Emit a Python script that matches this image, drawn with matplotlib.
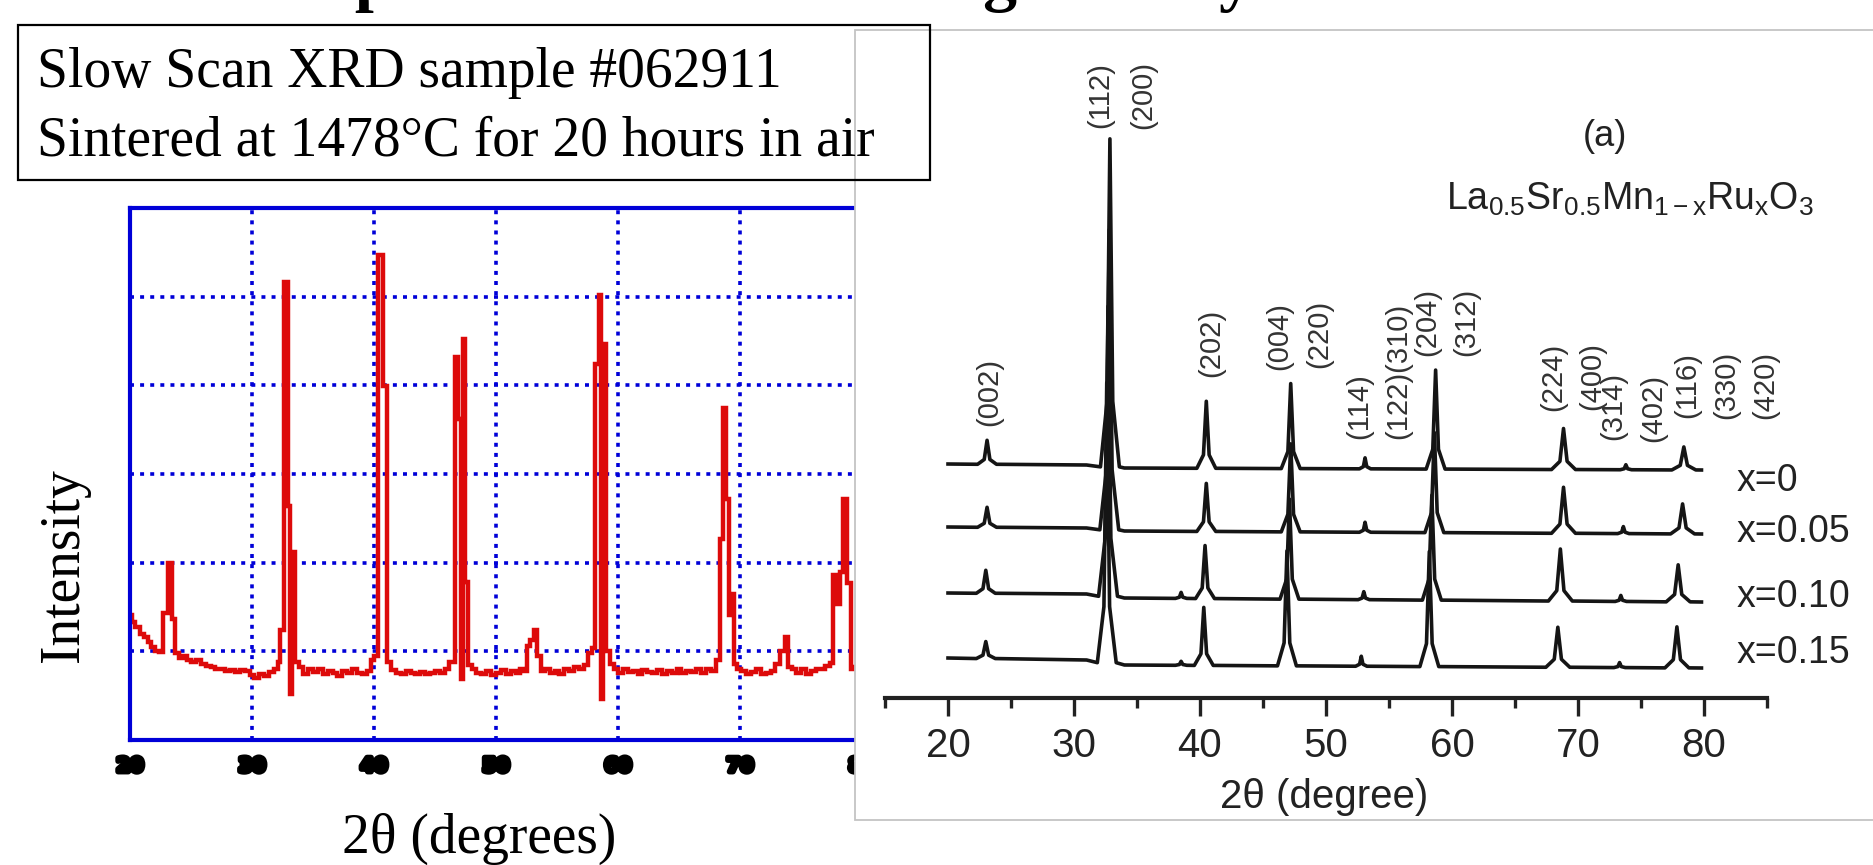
import matplotlib
matplotlib.use("Agg")
import matplotlib.pyplot as plt
from matplotlib.patches import Rectangle
import matplotlib.patheffects as pe
import numpy as np

W, H = 1873, 865

plt.rcParams['mathtext.fontset'] = 'custom'
plt.rcParams['mathtext.rm'] = 'Liberation Sans'
plt.rcParams['mathtext.it'] = 'Liberation Sans:italic'
plt.rcParams['mathtext.bf'] = 'Liberation Sans:bold'

# slow scan of the sample (2theta, intensity in grid units)
scan_theta = [20.0, 20.3, 20.6, 21.0, 21.3, 21.6, 21.9, 22.2, 22.5, 22.93, 23.25, 23.57, 23.85,
              24.2, 24.5, 24.8, 25.2, 25.6, 26.0, 26.4, 26.8, 27.2, 27.6, 28.0, 28.4, 28.8,
              29.2, 29.6, 30.0, 30.4, 30.8, 31.2, 31.6, 32.0, 32.2, 32.43, 32.84, 33.05, 33.15,
              33.36, 33.65, 34.0, 34.4, 34.8, 35.2, 35.6, 36.0, 36.4, 36.8, 37.2, 37.6, 38.0,
              38.4, 38.8, 39.2, 39.6, 39.9, 40.16, 40.57, 40.87, 41.2, 41.6, 42.0, 42.4, 42.8,
              43.2, 43.6, 44.0, 44.4, 44.8, 45.2, 45.6, 46.0, 46.3, 46.55, 46.8, 47.05, 47.2,
              47.35, 47.6, 47.85, 48.2, 48.6, 49.0, 49.4, 49.8, 50.2, 50.6, 51.0, 51.4, 51.8,
              52.2, 52.45, 52.7, 52.95, 53.2, 53.5, 53.8, 54.2, 54.6, 55.0, 55.4, 55.8, 56.2,
              56.6, 57.0, 57.4, 57.75, 58.0, 58.3, 58.55, 58.65, 58.9, 59.2, 59.5, 59.8, 60.2,
              60.6, 61.0, 61.4, 61.8, 62.2, 62.6, 63.0, 63.4, 63.8, 64.2, 64.6, 65.0, 65.4,
              65.8, 66.2, 66.6, 67.0, 67.4, 67.8, 68.2, 68.45, 68.75, 69.0, 69.2, 69.4, 69.65,
              69.9, 70.3, 70.7, 71.1, 71.5, 71.9, 72.3, 72.7, 73.1, 73.5, 73.8, 74.1, 74.4,
              74.8, 75.2, 75.6, 76.0, 76.4, 76.8, 77.2, 77.5, 77.8, 78.05, 78.3, 78.6, 78.95,
              79.2, 79.5, 79.8]
scan_counts = [1.41, 1.33, 1.27, 1.20, 1.16, 1.10, 1.05, 1.00, 0.99, 1.43, 2.00, 1.36, 0.98,
               0.93, 0.95, 0.90, 0.88, 0.90, 0.86, 0.84, 0.82, 0.80, 0.80, 0.78, 0.79, 0.77,
               0.79, 0.78, 0.73, 0.70, 0.75, 0.72, 0.77, 0.80, 0.88, 1.24, 5.17, 2.64, 0.52,
               2.12, 0.88, 0.82, 0.75, 0.80, 0.77, 0.80, 0.74, 0.78, 0.76, 0.72, 0.78, 0.76,
               0.80, 0.76, 0.74, 0.78, 0.90, 0.95, 5.47, 3.99, 0.88, 0.79, 0.76, 0.74, 0.78,
               0.76, 0.74, 0.77, 0.74, 0.76, 0.78, 0.76, 0.80, 0.88, 0.88, 4.32, 3.62, 0.69,
               4.52, 1.78, 0.85, 0.80, 0.76, 0.74, 0.78, 0.73, 0.76, 0.79, 0.75, 0.78, 0.76,
               0.80, 0.78, 1.06, 1.13, 1.24, 0.95, 0.78, 0.80, 0.76, 0.78, 0.74, 0.80, 0.78,
               0.82, 0.80, 0.85, 0.98, 1.04, 4.24, 5.02, 0.46, 4.47, 1.00, 0.86, 0.80, 0.76,
               0.80, 0.77, 0.78, 0.74, 0.79, 0.77, 0.76, 0.79, 0.75, 0.78, 0.76, 0.80, 0.76,
               0.78, 0.77, 0.80, 0.76, 0.80, 0.78, 0.90, 2.27, 3.74, 2.72, 1.41, 1.65, 0.86,
               0.80, 0.78, 0.74, 0.77, 0.80, 0.74, 0.76, 0.78, 0.86, 1.00, 1.16, 0.82, 0.80,
               0.76, 0.80, 0.74, 0.78, 0.80, 0.80, 0.84, 0.87, 1.86, 1.53, 1.90, 2.72, 1.77,
               0.80, 0.82, 0.78]
scan_ticks = [20, 30, 40, 50, 60, 70, 80]

# literature patterns La0.5Sr0.5Mn(1-x)RuxO3, peak positions and heights
lit_names = ['x=0', 'x=0.05', 'x=0.10', 'x=0.15']
lit_theta_x000 = [23.1, 32.85, 40.5, 47.2, 53.1, 58.7, 68.85, 73.8, 78.4]
lit_height_x000 = [24, 328, 67, 85, 11, 99, 41, 5, 23]
lit_theta_x005 = [23.1, 32.8, 40.5, 47.2, 53.1, 58.6, 68.85, 73.6, 78.3]
lit_height_x005 = [20, 300, 48, 88, 10, 100, 46, 7, 30]
lit_theta_x010 = [23.0, 32.7, 38.5, 40.4, 47.1, 53.0, 58.4, 68.6, 73.4, 77.95]
lit_height_x010 = [23, 290, 6, 53, 100, 8, 105, 52, 6, 37]
lit_theta_x015 = [23.0, 32.6, 38.5, 40.3, 46.9, 52.8, 58.2, 68.4, 73.3, 77.85]
lit_height_x015 = [17, 280, 4, 58, 115, 10, 115, 40, 5, 41]
lit_bg_theta = [20.0, 31.0, 34.0, 79.8]
lit_bg_x000 = [6, 5, 2, 0]
lit_bg_x005 = [6, 5, 2, -1]
lit_bg_x010 = [7, 6, 2, -2]
lit_bg_x015 = [9, 7, 2, -1]
lit_ticks = [20, 30, 40, 50, 60, 70, 80]

hkl_text = ['(002)', '(112)', '(200)', '(202)', '(004)', '(220)', '(114)', '(122)(310)',
            '(204)', '(312)', '(224)', '(400)', '(314)', '(402)', '(116)', '(330)', '(420)']
hkl_theta = [23.3, 32.1, 35.5, 40.9, 46.3, 49.5, 52.6, 55.7, 58.0, 61.1, 68.0, 71.1,
             72.8, 76.0, 78.7, 81.8, 84.9]

# layout (inset units above the 2theta axis)
hkl_y = [306, 603, 603, 355, 362, 364, 292, 327, 376, 376, 321, 322, 292, 290, 313, 313, 313]
lit_offset = [228, 165, 98, 31]
lit_label_y = [217, 166, 101, 45]


def fx(px):
    return px / W


def fy(py):
    return 1 - py / H


fig = plt.figure(figsize=(W / 100, H / 100), dpi=100)

# title of the slide, mostly above the page
fig.text(fx(215), 1 + 1 / H, 'Comparison to Earlier Single Study', fontsize=49,
         fontweight='bold', family='Liberation Serif', va='baseline')

# left panel
blue = '#0000d8'
ax = fig.add_axes([fx(130), fy(740), (862 - 130) / W, (740 - 208) / H])
ax.set_zorder(0)
ax.plot(scan_theta, scan_counts, color='#dd0a0a', lw=3.2, drawstyle='steps-mid',
        solid_joinstyle='miter')
ax.set_xlim(20, 80)
ax.set_ylim(0, 6)
ax.set_xticks(scan_ticks)
ax.set_yticks(range(7))
ax.set_yticklabels([])
ax.grid(True, color=blue, linestyle=(0, (1.1, 1.7)), linewidth=2.6)
ax.tick_params(length=0, pad=12)
for s in ax.spines.values():
    s.set_color(blue)
    s.set_linewidth(3)
for lab in ax.get_xticklabels():
    lab.set_fontsize(14)
    lab.set_fontweight('black')
    lab.set_family('DejaVu Sans')
    lab.set_path_effects([pe.withStroke(linewidth=4, foreground='black')])

fig.text(fx(479), fy(853), '2θ (degrees)', ha='center', va='baseline', fontsize=40,
         family='Liberation Serif')
fig.text(fx(64), fy(565), 'Intensity', ha='center', va='center', rotation=90, fontsize=40,
         family='Liberation Serif')

# inset picture from the literature
fig.add_artist(Rectangle((fx(855), fy(820)), 0.6, (820 - 30) / H, transform=fig.transFigure,
                         facecolor='white', edgecolor='#c4c4c4', lw=1.3, zorder=1))
ax2 = fig.add_axes([fx(885), fy(698), (1767 - 885) / W, (698 - 30) / H])
ax2.set_zorder(2)
ax2.patch.set_alpha(0)
ax2.set_xlim(15, 85)
ax2.set_ylim(0, 668)
for side in ['top', 'left', 'right']:
    ax2.spines[side].set_visible(False)
ax2.spines['bottom'].set_linewidth(3)
ax2.spines['bottom'].set_color('#222222')
ax2.set_yticks([])
ax2.set_xticks(lit_ticks)
ax2.set_xticks(range(15, 86, 10), minor=True)
ax2.tick_params(axis='x', which='major', length=13, width=2.4, color='#222222', pad=8,
                labelsize=29, labelcolor='#222222')
ax2.tick_params(axis='x', which='minor', length=7, width=2.4, color='#222222')
for lab in ax2.get_xticklabels():
    lab.set_family('Liberation Sans')

series = [(lit_theta_x000, lit_height_x000, lit_bg_x000),
          (lit_theta_x005, lit_height_x005, lit_bg_x005),
          (lit_theta_x010, lit_height_x010, lit_bg_x010),
          (lit_theta_x015, lit_height_x015, lit_bg_x015)]
for (th, hh, bg), off, name, ly in zip(series, lit_offset, lit_names, lit_label_y):
    pts = list(zip(lit_bg_theta, bg))
    for t, h in zip(th, hh):
        w = 0.45 if h < 15 else (0.95 if t > 65 else 0.75)
        b = np.interp(t, lit_bg_theta, bg)
        pts += [(t - w, b), (t - 0.3 * w, b + 0.2 * h), (t, b + h),
                (t + 0.3 * w, b + 0.2 * h), (t + w, b)]
    pts.sort()
    xs = [p[0] for p in pts]
    ys = [p[1] + off for p in pts]
    ax2.plot(xs, ys, color='#151515', lw=2.6, solid_joinstyle='round')
    ax2.text(82.6, ly, name, ha='left', va='center', fontsize=27, color='#222222',
             family='Liberation Sans')

for t, y, s in zip(hkl_theta, hkl_y, hkl_text):
    ax2.text(t, y, s, rotation=90, ha='center', va='center', fontsize=21,
             color='#333333', family='Liberation Sans')

fig.text(fx(1605), fy(136), '(a)', ha='center', va='center', fontsize=26, color='#222222',
         family='Liberation Sans')
fig.text(fx(1630), fy(210), r'La$_{0.5}$Sr$_{0.5}$Mn$_{\mathrm{1-x}}$Ru$_{\mathrm{x}}$O$_{3}$',
         ha='center', va='baseline', fontsize=27, color='#222222', family='Liberation Sans')
fig.text(fx(1324), fy(797), '2θ (degree)', ha='center', va='center', fontsize=29,
         color='#222222', family='Liberation Sans')

# text box on top
fig.add_artist(Rectangle((fx(18), fy(180)), (930 - 18) / W, (180 - 25) / H,
                         transform=fig.transFigure, fill=False, edgecolor='black', lw=1.6,
                         zorder=3))
fig.text(fx(37), fy(87), 'Slow Scan XRD sample #062911', fontsize=40,
         family='Liberation Serif', va='baseline', zorder=4)
fig.text(fx(37), fy(155), 'Sintered at 1478°C for 20 hours in air', fontsize=40,
         family='Liberation Serif', va='baseline', zorder=4)

fig.savefig('out.png', dpi=100)
